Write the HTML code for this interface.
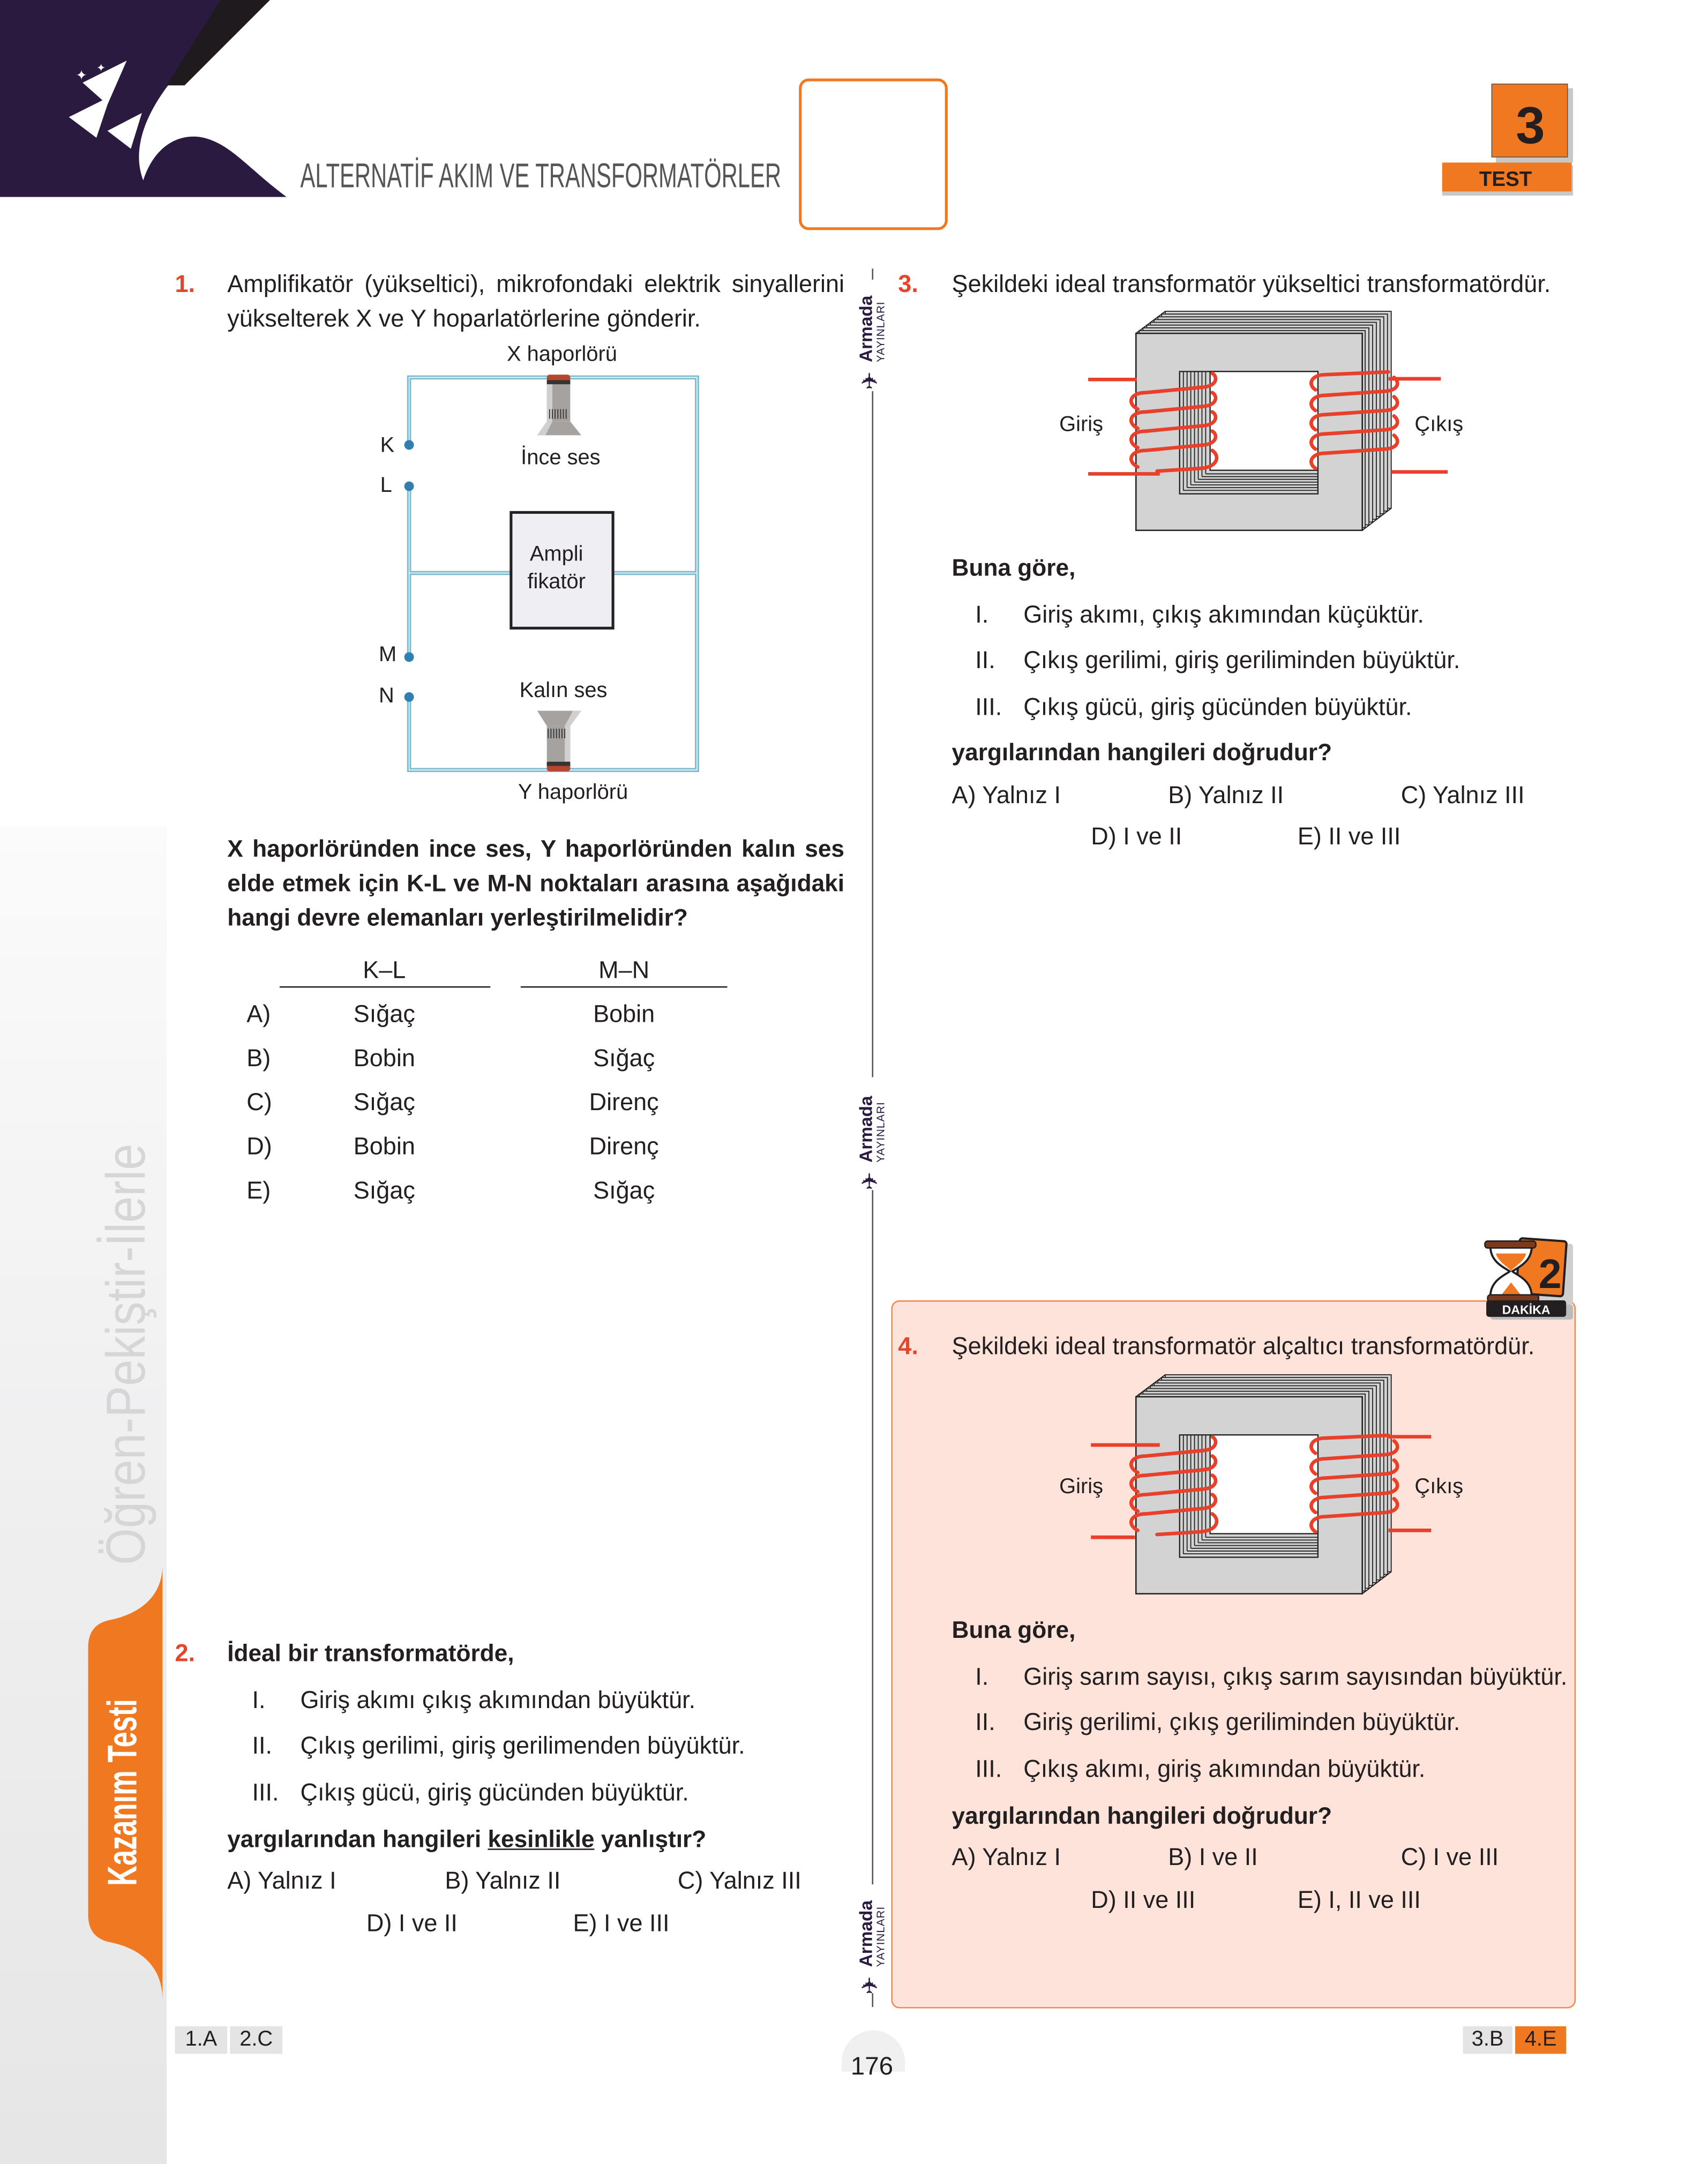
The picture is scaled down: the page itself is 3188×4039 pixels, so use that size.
<!DOCTYPE html>
<html><head><meta charset="utf-8"><style>
html,body{margin:0;padding:0;background:#fff;}
body{width:3188px;height:4039px;overflow:hidden;position:relative;}
#p{position:absolute;left:0;top:0;width:1240px;height:1571px;transform:scale(2.5710);transform-origin:0 0;font-family:"Liberation Sans",sans-serif;color:#231f20;}
.t{position:absolute;font-size:17.5px;line-height:22px;white-space:nowrap;}
.b{font-weight:bold;font-size:17.2px;}
.n{position:absolute;font-size:17.5px;line-height:22px;font-weight:bold;color:#e4462b;}
.s{position:absolute;font-size:15.5px;line-height:18px;white-space:nowrap;}
.c{transform:translateX(-50%);}
.logo{position:absolute;width:80px;height:24px;transform:rotate(-90deg);transform-origin:center;color:#2a1a40;}
.logo .a{position:absolute;left:20px;top:0px;font-weight:bold;font-size:13px;line-height:13px;}
.logo .y{position:absolute;left:20px;top:13px;font-size:8px;line-height:9px;letter-spacing:0.4px;}
.logo .i{position:absolute;left:0;top:2px;font-size:16px;line-height:18px;color:#2a1a40;}
.box{position:absolute;font-size:15.5px;line-height:20px;text-align:center;}
</style></head><body><div id="p">

<!-- header -->
<svg style="position:absolute;left:0;top:0" width="1240" height="200">
  <path d="M0,0 H162 L122,62 C104,86 96,110 104,131 C112,106 130,96 148,100 C168,105 180,122 208,143 H0 Z" fill="#2a1a40"/>
  <path d="M160,0 H196 L134,62 L121,62 Z" fill="#1e1a1e"/>
  <path d="M60,60 L92,44 L78,76 Z M50,85 L80,70 L70,100 Z M78,95 L103,82 L95,108 Z" fill="#fff"/>
  <text x="55" y="58" fill="#fff" font-size="10">✦</text>
  <text x="70" y="52" fill="#fff" font-size="8">✦</text>
  <rect x="581" y="58" width="106" height="108" rx="6" fill="#fff" stroke="#f07820" stroke-width="2"/>
  <rect x="1086" y="64" width="56" height="54" fill="#c8c8c8"/>
  <rect x="1083" y="61" width="55" height="53" fill="#f07820" stroke="#555" stroke-width="0.6"/>
  <text x="1111" y="104" text-anchor="middle" font-family="Liberation Sans" font-weight="bold" font-size="38" fill="#231f20">3</text>
  <rect x="1047" y="120" width="95" height="22" fill="#c8c8c8"/>
  <rect x="1047" y="118" width="94" height="21" fill="#f07820"/>
  <text x="1093" y="135" text-anchor="middle" font-family="Liberation Sans" font-weight="bold" font-size="15" fill="#231f20">TEST</text>
</svg>
<div style="position:absolute;left:218px;top:114px;font-size:25px;line-height:28px;color:#555;white-space:nowrap;transform:scaleX(0.65);transform-origin:0 0;">ALTERNATİF AKIM VE TRANSFORMATÖRLER</div>

<!-- left sidebar -->
<div style="position:absolute;left:0;top:600px;width:121px;height:971px;background:linear-gradient(#fbfbfb,#f1f1f2 40%,#e6e6e6);"></div>
<div style="position:absolute;left:92px;top:983px;width:0;height:0;">
  <div style="position:absolute;left:-250px;top:-22px;width:500px;height:44px;transform:rotate(-90deg);font-size:40px;line-height:44px;color:#d6d6d6;white-space:nowrap;text-align:center;"><span style="display:inline-block;transform:scaleX(0.86);">Öğren-Pekiştir-İlerle</span></div>
</div>
<svg style="position:absolute;left:60px;top:1130px" width="62" height="330">
  <path d="M58,6 C58,30 40,42 20,46 C10,48 4,54 4,66 V260 C4,272 10,278 20,280 C40,284 58,296 58,322 Z" fill="#f07820"/>
</svg>
<div style="position:absolute;left:90px;top:1301px;width:0;height:0;">
  <div style="position:absolute;left:-150px;top:-18px;width:300px;height:36px;transform:rotate(-90deg);font-size:30px;line-height:36px;color:#fff;font-weight:bold;white-space:nowrap;text-align:center;"><span style="display:inline-block;transform:scaleX(0.68);">Kazanım Testi</span></div>
</div>

<!-- divider -->
<div style="position:absolute;left:633px;top:195px;width:1px;height:8px;background:#555"></div>
<div style="position:absolute;left:633px;top:284px;width:1px;height:498px;background:#555"></div>
<div style="position:absolute;left:633px;top:864px;width:1px;height:504px;background:#555"></div>
<div style="position:absolute;left:633px;top:1447px;width:1px;height:10px;background:#555"></div>
<div class="logo" style="left:594px;top:231px"><span class="i">✈</span><span class="a">Armada</span><span class="y">YAYINLARI</span></div>
<div class="logo" style="left:594px;top:812px"><span class="i">✈</span><span class="a">Armada</span><span class="y">YAYINLARI</span></div>
<div class="logo" style="left:594px;top:1396px"><span class="i">✈</span><span class="a">Armada</span><span class="y">YAYINLARI</span></div>

<!-- Q1 -->
<div class="n" style="left:127px;top:195px">1.</div>
<div class="t" style="left:165px;top:195px;width:448px;text-align:justify;text-align-last:justify;">Amplifikatör (yükseltici), mikrofondaki elektrik sinyallerini</div>
<div class="t" style="left:165px;top:220px">yükselterek X ve Y hoparlatörlerine gönderir.</div>

<svg style="position:absolute;left:0;top:0" width="640" height="600">
  <g stroke="#7fbcd0" stroke-width="3" fill="none">
    <path d="M297,323 V274 H506 V559 H297 V506"/>
    <path d="M297,353 V477"/>
    <path d="M297,416 H372 M446,416 H506"/>
  </g>
  <g stroke="#fff" stroke-width="0.6" fill="none">
    <path d="M297,323 V274 H506 V559 H297 V506"/>
    <path d="M297,353 V477"/>
    <path d="M297,416 H372 M446,416 H506"/>
  </g>
  <g fill="#2f7fb0"><circle cx="297" cy="323" r="3.5"/><circle cx="297" cy="353" r="3.5"/><circle cx="297" cy="477" r="3.5"/><circle cx="297" cy="506" r="3.5"/></g>
  <rect x="371" y="372" width="74" height="84" fill="#efeef2" stroke="#222" stroke-width="2"/>
  <rect x="397" y="272" width="17" height="7" rx="2" fill="#b5482c"/>
  <rect x="397" y="276" width="17" height="3" fill="#333"/>
  <rect x="397" y="279" width="17" height="27" fill="#a5a2a0"/>
  <rect x="397" y="279" width="4" height="27" fill="#d0d0d0"/>
  <g stroke="#333" stroke-width="0.7"><path d="M399,297V304M401,297V304M403,297V304M405,297V304M407,297V304M409,297V304M411,297V304"/></g>
  <path d="M397,306 H414 L422,316 H390 Z" fill="#a5a2a0"/>
  <path d="M397,306 H401 L396,316 H390 Z" fill="#d0d0d0"/>
  <path d="M390,516 H422 L414,527 H397 Z" fill="#a5a2a0"/>
  <path d="M414,527 H410 L416,516 H422 Z" fill="#d0d0d0"/>
  <rect x="397" y="527" width="17" height="26" fill="#a5a2a0"/>
  <rect x="410" y="527" width="4" height="26" fill="#d0d0d0"/>
  <g stroke="#333" stroke-width="0.7"><path d="M398,529V536M400,529V536M402,529V536M404,529V536M406,529V536M408,529V536M410,529V536"/></g>
  <rect x="397" y="553" width="17" height="7" rx="2" fill="#b5482c"/>
  <rect x="397" y="553" width="17" height="3" fill="#333"/>
</svg>
<div class="s c" style="left:408px;top:249px">X haporlörü</div>
<div class="s c" style="left:407px;top:324px">İnce ses</div>
<div class="s" style="left:276px;top:315px">K</div>
<div class="s" style="left:276px;top:344px">L</div>
<div class="s" style="left:275px;top:467px">M</div>
<div class="s" style="left:275px;top:497px">N</div>
<div class="box" style="left:370px;top:393px;width:68px;">Ampli<br>fikatör</div>
<div class="s c" style="left:409px;top:493px">Kalın ses</div>
<div class="s c" style="left:416px;top:567px">Y haporlörü</div>

<div class="t b" style="left:165px;top:605px;width:448px;text-align:justify;text-align-last:justify;">X haporlöründen ince ses, Y haporlöründen kalın ses</div>
<div class="t b" style="left:165px;top:630px;width:448px;text-align:justify;text-align-last:justify;">elde etmek için K-L ve M-N noktaları arasına aşağıdaki</div>
<div class="t b" style="left:165px;top:655px">hangi devre elemanları yerleştirilmelidir?</div>

<div class="t c" style="left:279px;top:693px">K–L</div>
<div class="t c" style="left:453px;top:693px">M–N</div>
<div style="position:absolute;left:203px;top:716px;width:153px;height:1px;background:#231f20"></div>
<div style="position:absolute;left:378px;top:716px;width:150px;height:1px;background:#231f20"></div>
<div class="t" style="left:179px;top:725px">A)</div><div class="t c" style="left:279px;top:725px">Sığaç</div><div class="t c" style="left:453px;top:725px">Bobin</div>
<div class="t" style="left:179px;top:757px">B)</div><div class="t c" style="left:279px;top:757px">Bobin</div><div class="t c" style="left:453px;top:757px">Sığaç</div>
<div class="t" style="left:179px;top:789px">C)</div><div class="t c" style="left:279px;top:789px">Sığaç</div><div class="t c" style="left:453px;top:789px">Direnç</div>
<div class="t" style="left:179px;top:821px">D)</div><div class="t c" style="left:279px;top:821px">Bobin</div><div class="t c" style="left:453px;top:821px">Direnç</div>
<div class="t" style="left:179px;top:853px">E)</div><div class="t c" style="left:279px;top:853px">Sığaç</div><div class="t c" style="left:453px;top:853px">Sığaç</div>

<!-- Q2 -->
<div class="n" style="left:127px;top:1189px">2.</div>
<div class="t b" style="left:165px;top:1189px">İdeal bir transformatörde,</div>
<div class="t" style="left:183px;top:1223px">I.</div><div class="t" style="left:218px;top:1223px">Giriş akımı çıkış akımından büyüktür.</div>
<div class="t" style="left:183px;top:1256px">II.</div><div class="t" style="left:218px;top:1256px">Çıkış gerilimi, giriş gerilimenden büyüktür.</div>
<div class="t" style="left:183px;top:1290px">III.</div><div class="t" style="left:218px;top:1290px">Çıkış gücü, giriş gücünden büyüktür.</div>
<div class="t b" style="left:165px;top:1324px">yargılarından hangileri <u>kesinlikle</u> yanlıştır?</div>
<div class="t" style="left:165px;top:1354px">A) Yalnız I</div>
<div class="t" style="left:323px;top:1354px">B) Yalnız II</div>
<div class="t" style="left:492px;top:1354px">C) Yalnız III</div>
<div class="t" style="left:266px;top:1385px">D) I ve II</div>
<div class="t" style="left:416px;top:1385px">E) I ve III</div>

<!-- Q4 box -->
<div style="position:absolute;left:647px;top:944px;width:495px;height:512px;background:#fde3da;border:1px solid #f08a50;border-radius:6px;"></div>

<!-- transformers -->
<svg style="position:absolute;left:0;top:0" width="1240" height="1200">
  <defs>
    <g id="core">
      <g fill="#d3d3d3" stroke="#222" stroke-width="0.7">
        <rect x="846" y="226" width="164" height="143"/>
        <rect x="843.3" y="228" width="164" height="143"/>
        <rect x="840.6" y="230" width="164" height="143"/>
        <rect x="837.9" y="232" width="164" height="143"/>
        <rect x="835.2" y="234" width="164" height="143"/>
        <rect x="832.5" y="236" width="164" height="143"/>
        <rect x="829.8" y="238" width="164" height="143"/>
        <rect x="827.1" y="240" width="164" height="143"/>
      </g>
      <path d="M824.7,242 L846,226 M989,385 L1010,369" stroke="#222" stroke-width="0.8"/>
      <rect x="824.7" y="242" width="164.3" height="143" fill="#d3d3d3" stroke="#222" stroke-width="1"/>
      <rect x="856.4" y="269.7" width="100.4" height="88.8" fill="#d3d3d3" stroke="#222" stroke-width="0.9"/>
      <g stroke="#222" stroke-width="0.7">
        <path d="M859.1,270V356 M861.8,270V354 M864.5,270V352 M867.2,270V350 M869.9,270V348 M872.6,270V346 M875.3,270V344"/>
        <path d="M859,356H957 M861.8,354H957 M864.5,352H957 M867.2,350H957 M869.9,348H957 M872.6,346H957 M875.3,344H957"/>
      </g>
      <rect x="878.5" y="269.7" width="78.3" height="71.7" fill="#fff" stroke="#222" stroke-width="0.9"/>
      <g stroke="#e8402a" stroke-width="2.6" fill="none" stroke-linecap="round">
        <path d="M826,297 C818,293 820,285 832,285 L874,281 C884,280 884,273 880,271"/>
        <path d="M826,311 C818,307 820,299 832,299 L874,295 C884,294 884,287 880,285"/>
        <path d="M826,325 C818,321 820,313 832,313 L874,309 C884,308 884,301 880,299"/>
        <path d="M826,339 C818,335 820,327 832,327 L874,323 C884,322 884,315 880,313"/>
        <path d="M880,327 C886,331 884,339 872,340 L840,342"/>
        <path d="M955,283 C949,279 952,272 962,272 L1008,270"/>
        <path d="M955,298 C949,294 952,287 962,287 L1006,284 C1016,283 1016,277 1012,274"/>
        <path d="M955,312 C949,308 952,301 962,301 L1006,298 C1016,297 1016,291 1012,288"/>
        <path d="M955,326 C949,322 952,315 962,315 L1006,312 C1016,311 1016,305 1012,302"/>
        <path d="M955,340 C949,336 952,329 962,329 L1006,326 C1016,325 1016,319 1012,316"/>
      </g>
    </g>
  </defs>
  <use href="#core"/>
  <g stroke="#e8402a" stroke-width="2.6">
    <path d="M790,275.5 H825 M790,344 H842 M1008,275 H1046 M1010,342.6 H1051"/>
  </g>
  <use href="#core" transform="translate(0,772)"/>
  <g stroke="#e8402a" stroke-width="2.6">
    <path d="M792,1116 H824 M792,1049 H842 M1007,1043 H1039 M1008,1111 H1039"/>
  </g>
</svg>

<!-- Q3 -->
<div class="n" style="left:652px;top:195px">3.</div>
<div class="t" style="left:691px;top:195px">Şekildeki ideal transformatör yükseltici transformatördür.</div>
<div class="s" style="left:769px;top:300px">Giriş</div>
<div class="s" style="left:1027px;top:300px">Çıkış</div>
<div class="t b" style="left:691px;top:401px">Buna göre,</div>
<div class="t" style="left:708px;top:435px">I.</div><div class="t" style="left:743px;top:435px">Giriş akımı, çıkış akımından küçüktür.</div>
<div class="t" style="left:708px;top:468px">II.</div><div class="t" style="left:743px;top:468px">Çıkış gerilimi, giriş geriliminden büyüktür.</div>
<div class="t" style="left:708px;top:502px">III.</div><div class="t" style="left:743px;top:502px">Çıkış gücü, giriş gücünden büyüktür.</div>
<div class="t b" style="left:691px;top:535px">yargılarından hangileri doğrudur?</div>
<div class="t" style="left:691px;top:566px">A) Yalnız I</div>
<div class="t" style="left:848px;top:566px">B) Yalnız II</div>
<div class="t" style="left:1017px;top:566px">C) Yalnız III</div>
<div class="t" style="left:792px;top:596px">D) I ve II</div>
<div class="t" style="left:942px;top:596px">E) II ve III</div>

<!-- 2 dakika badge -->
<svg style="position:absolute;left:1070px;top:895px" width="75" height="65">
  <rect x="46" y="8" width="26" height="44" rx="2" fill="#cfcfcf"/>
  <rect x="32" y="5" width="34" height="40" rx="2" fill="#f07820" stroke="#231f20" stroke-width="1.6" transform="rotate(4 49 25)"/>
  <text x="47" y="40" font-family="Liberation Sans" font-weight="bold" font-size="30" fill="#231f20">2</text>
  <path d="M12,10 H42 C42,22 30,26 28,28 C30,30 42,34 42,46 H12 C12,34 24,30 26,28 C24,26 12,22 12,10 Z" fill="#fff" stroke="#231f20" stroke-width="1.5"/>
  <path d="M16,15 H38 C36,22 28,25 27,28 C26,25 18,22 16,15 Z M20,45 L27,36 L34,45 Z" fill="#f07820"/>
  <rect x="8" y="6" width="37" height="5" rx="2" fill="#7a3a20" stroke="#231f20" stroke-width="1"/>
  <rect x="10" y="45" width="37" height="5" rx="2" fill="#7a3a20" stroke="#231f20" stroke-width="1"/>
  <rect x="12" y="52" width="60" height="11" rx="2" fill="#bbb"/>
  <rect x="9" y="49" width="58" height="12" rx="2" fill="#231f20"/>
  <text x="38" y="59" text-anchor="middle" font-family="Liberation Sans" font-weight="bold" font-size="9" fill="#fff">DAKİKA</text>
</svg>

<!-- Q4 -->
<div class="n" style="left:652px;top:966px">4.</div>
<div class="t" style="left:691px;top:966px">Şekildeki ideal transformatör alçaltıcı transformatördür.</div>
<div class="s" style="left:769px;top:1071px">Giriş</div>
<div class="s" style="left:1027px;top:1071px">Çıkış</div>
<div class="t b" style="left:691px;top:1172px">Buna göre,</div>
<div class="t" style="left:708px;top:1206px">I.</div><div class="t" style="left:743px;top:1206px">Giriş sarım sayısı, çıkış sarım sayısından büyüktür.</div>
<div class="t" style="left:708px;top:1239px">II.</div><div class="t" style="left:743px;top:1239px">Giriş gerilimi, çıkış geriliminden büyüktür.</div>
<div class="t" style="left:708px;top:1273px">III.</div><div class="t" style="left:743px;top:1273px">Çıkış akımı, giriş akımından büyüktür.</div>
<div class="t b" style="left:691px;top:1307px">yargılarından hangileri doğrudur?</div>
<div class="t" style="left:691px;top:1337px">A) Yalnız I</div>
<div class="t" style="left:848px;top:1337px">B) I ve II</div>
<div class="t" style="left:1017px;top:1337px">C) I ve III</div>
<div class="t" style="left:792px;top:1368px">D) II ve III</div>
<div class="t" style="left:942px;top:1368px">E) I, II ve III</div>

<!-- footer -->
<div style="position:absolute;left:127px;top:1471px;width:38px;height:20px;background:#e4e4e4;font-size:15.5px;line-height:20px;text-align:center;">1.A</div>
<div style="position:absolute;left:167px;top:1471px;width:38px;height:20px;background:#e4e4e4;font-size:15.5px;line-height:20px;text-align:center;">2.C</div>
<div style="position:absolute;left:1062px;top:1471px;width:36px;height:20px;background:#e4e4e4;font-size:15.5px;line-height:20px;text-align:center;">3.B</div>
<div style="position:absolute;left:1100px;top:1471px;width:37px;height:20px;background:#f07820;font-size:15.5px;line-height:20px;text-align:center;">4.E</div>
<div style="position:absolute;left:611px;top:1474px;width:46px;height:30px;border-radius:23px 23px 0 0;background:#f0f0f0;"></div>
<div style="position:absolute;left:633px;top:1490px;transform:translateX(-50%);font-size:18.5px;line-height:20px;">176</div>

</div></body></html>
